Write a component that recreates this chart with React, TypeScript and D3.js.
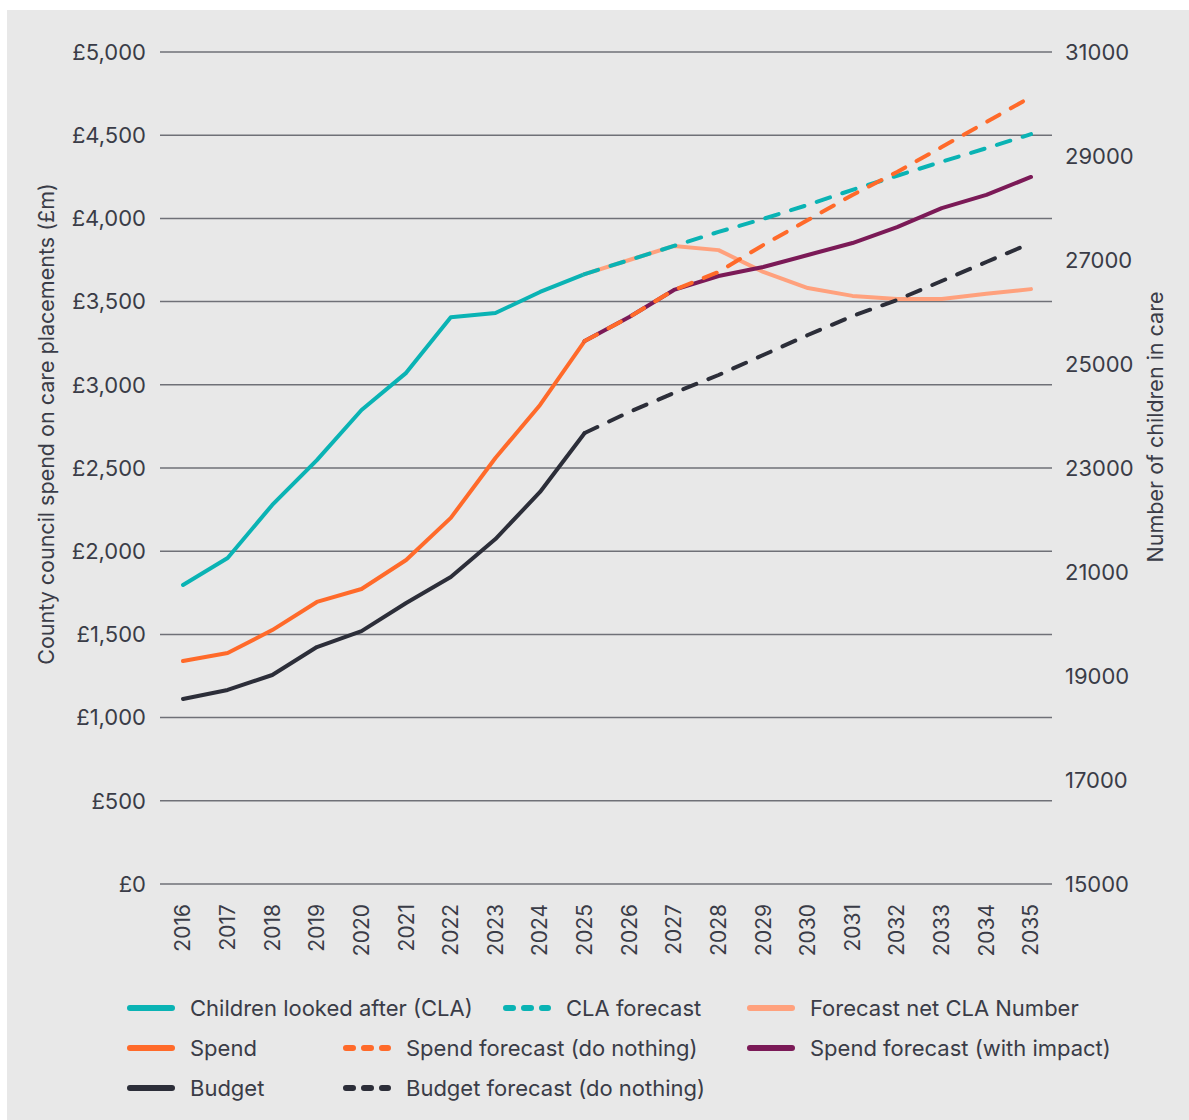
import React from "react";
import * as d3 from "d3";

const years = [2016, 2017, 2018, 2019, 2020, 2021, 2022, 2023, 2024, 2025, 2026, 2027, 2028, 2029, 2030, 2031, 2032, 2033, 2034, 2035];
const histYears = [2016, 2017, 2018, 2019, 2020, 2021, 2022, 2023, 2024, 2025];
const fcYears = [2025, 2026, 2027, 2028, 2029, 2030, 2031, 2032, 2033, 2034, 2035];

const claActual = [20750, 21270, 22290, 23150, 24115, 24830, 25900, 25980, 26385, 26730];
const claForecast = [26730, 27000, 27270, 27540, 27790, 28060, 28350, 28620, 28890, 29150, 29420];
const netCla = [26730, 27000, 27270, 27190, 26770, 26460, 26310, 26250, 26250, 26350, 26440];

const spend = [1340, 1388, 1526, 1695, 1773, 1947, 2200, 2560, 2879, 3263];
const spendNothing = [3263, 3407, 3570, 3678, 3840, 3990, 4141, 4279, 4429, 4579, 4730];
const spendImpact = [3263, 3407, 3570, 3654, 3708, 3780, 3852, 3948, 4062, 4141, 4249];

const budget = [1112, 1166, 1256, 1424, 1520, 1689, 1845, 2073, 2356, 2710];
const budgetNothing = [2710, 2837, 2951, 3059, 3179, 3299, 3413, 3510, 3624, 3738, 3852];

const leftTicks = [0, 500, 1000, 1500, 2000, 2500, 3000, 3500, 4000, 4500, 5000];
const rightTicks = [15000, 17000, 19000, 21000, 23000, 25000, 27000, 29000, 31000];

const leftTitle = "County council spend on care placements (£m)";
const rightTitle = "Number of children in care";

const C = {
  teal: "#0ab3b4",
  orange: "#ff6a2a",
  salmon: "#ffa17d",
  purple: "#7b1a57",
  dark: "#2c2e39",
  grid: "#6f7077",
  text: "#3a3c47",
  bg: "#e8e8e8",
};

const legendItems = [
  { label: "Children looked after (CLA)", color: C.teal, dashed: false, x: 127, row: 0 },
  { label: "CLA forecast", color: C.teal, dashed: true, x: 503, row: 0 },
  { label: "Forecast net CLA Number", color: C.salmon, dashed: false, x: 747, row: 0 },
  { label: "Spend", color: C.orange, dashed: false, x: 127, row: 1 },
  { label: "Spend forecast (do nothing)", color: C.orange, dashed: true, x: 343, row: 1 },
  { label: "Spend forecast (with impact)", color: C.purple, dashed: false, x: 747, row: 1 },
  { label: "Budget", color: C.dark, dashed: false, x: 127, row: 2 },
  { label: "Budget forecast (do nothing)", color: C.dark, dashed: true, x: 343, row: 2 },
];

export default function App() {
  const x = d3.scaleLinear().domain([2016, 2035]).range([183, 1031]);
  const yL = d3.scaleLinear().domain([0, 5000]).range([884, 52]);
  const yR = d3.scaleLinear().domain([15000, 31000]).range([884, 52]);

  const lineL = (xs: number[], vs: number[]) =>
    d3.line<number>().x((_, i) => x(xs[i])).y((v) => yL(v))(vs) || "";
  const lineR = (xs: number[], vs: number[]) =>
    d3.line<number>().x((_, i) => x(xs[i])).y((v) => yR(v))(vs) || "";

  const fmt = d3.format(",");
  const font = "Inter, 'Noto Sans', sans-serif";
  const dash = "14 13";

  const series = [
    { d: lineR(histYears, claActual), c: C.teal, dash: false },
    { d: lineL(histYears, spend), c: C.orange, dash: false },
    { d: lineL(histYears, budget), c: C.dark, dash: false },
    { d: lineR(fcYears, netCla), c: C.salmon, dash: false },
    { d: lineL(fcYears, spendImpact), c: C.purple, dash: false },
    { d: lineR(fcYears, claForecast), c: C.teal, dash: true },
    { d: lineL(fcYears, spendNothing), c: C.orange, dash: true },
    { d: lineL(fcYears, budgetNothing), c: C.dark, dash: true },
  ];

  return (
    <svg
      width={1189}
      height={1120}
      style={{ position: "absolute", left: 0, top: 0, fontFamily: font }}
    >
      <rect x={0} y={0} width={1189} height={1120} fill="#ffffff" />
      <rect x={7} y={10} width={1182} height={1110} fill={C.bg} />

      {leftTicks.map((t) => (
        <g key={"l" + t}>
          <line x1={160} x2={1052} y1={yL(t)} y2={yL(t)} stroke={C.grid} strokeWidth={1.5} />
          <text x={146} y={yL(t)} dy="0.35em" textAnchor="end" fontSize={22} fill={C.text}>
            £{fmt(t)}
          </text>
        </g>
      ))}

      {rightTicks.map((t) => (
        <text key={"r" + t} x={1065} y={yR(t)} dy="0.35em" textAnchor="start" fontSize={22} fill={C.text}>
          {t}
        </text>
      ))}

      {years.map((yr) => (
        <text
          key={"x" + yr}
          transform={`translate(${x(yr)},904) rotate(-90)`}
          dy="0.35em"
          textAnchor="end"
          fontSize={21}
          fill={C.text}
        >
          {yr}
        </text>
      ))}

      <text
        transform={`translate(46,424) rotate(-90)`}
        dy="0.35em"
        textAnchor="middle"
        fontSize={21.5}
        fill={C.text}
      >
        {leftTitle}
      </text>
      <text
        transform={`translate(1155,427) rotate(-90)`}
        dy="0.35em"
        textAnchor="middle"
        fontSize={21.5}
        fill={C.text}
      >
        {rightTitle}
      </text>

      {series.map((s, i) => (
        <path
          key={"s" + i}
          d={s.d}
          fill="none"
          stroke={s.c}
          strokeWidth={4}
          strokeLinecap="round"
          strokeLinejoin="round"
          strokeDasharray={s.dash ? dash : undefined}
        />
      ))}

      {legendItems.map((it, i) => {
        const y = 1008 + it.row * 40;
        return (
          <g key={"lg" + i}>
            <line
              x1={it.x + 3}
              x2={it.x + 45}
              y1={y}
              y2={y}
              stroke={it.color}
              strokeWidth={6}
              strokeLinecap="round"
              strokeDasharray={it.dashed ? "7 11" : undefined}
            />
            <text x={it.x + 63} y={y} dy="0.35em" fontSize={22} fill={C.text}>
              {it.label}
            </text>
          </g>
        );
      })}
    </svg>
  );
}
